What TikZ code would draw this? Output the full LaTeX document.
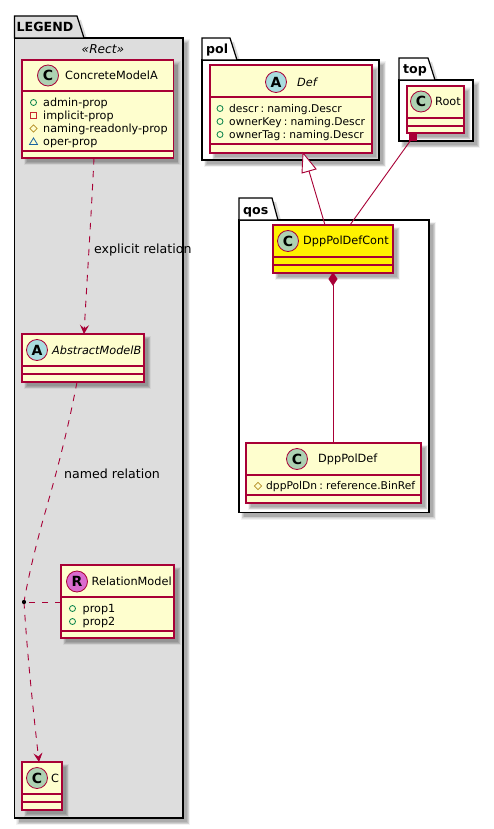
\documentclass[tikz,border=0pt]{standalone}
\usepackage{fontspec}
\setmainfont{DejaVu Sans}
\usetikzlibrary{arrows.meta,calc}
\definecolor{umlred}{HTML}{A80036}
\definecolor{umlfill}{HTML}{FEFECE}
\definecolor{legendgray}{HTML}{DDDDDD}
\definecolor{spotc}{HTML}{ADD1B2}
\definecolor{spota}{HTML}{A9DCDF}
\definecolor{spotr}{HTML}{DA6BCF}
\definecolor{visgreen}{HTML}{038048}
\definecolor{visred}{HTML}{C82930}
\definecolor{visyellow}{HTML}{B38D22}
\definecolor{visblue}{HTML}{1963A0}
\newcommand{\txt}{\fontsize{11.3}{13}\selectfont}
\newcommand{\atxt}{\fontsize{11.2}{13}\selectfont\spaceskip=.16em\relax}
\newcommand{\btxt}{\fontsize{10.7}{13}\selectfont\spaceskip=.2em\relax}
\newcommand{\etxt}{\fontsize{12.6}{14}\selectfont}
\newcommand{\ptxt}{\fontsize{12.6}{14}\selectfont\bfseries}
\tikzset{
  classbox/.style={draw=umlred,line width=1.1pt,inner sep=0pt,outer sep=0pt},
  pkgline/.style={draw=black,line width=1.2pt,line join=miter},
  spotcircle/.style={draw=umlred,line width=.8pt,circle,minimum size=21pt,inner sep=0pt,font=\fontsize{14}{14}\selectfont\bfseries},
  classname/.style={inner sep=0pt,anchor=west,text=black,font=\txt},
  attrtext/.style={inner sep=0pt,anchor=base west,text=black,font=\atxt},
  edgelabel/.style={inner sep=0pt,anchor=west,text=black,font=\etxt},
  relation/.style={draw=umlred,line width=.9pt},
  dashrel/.style={relation,dash pattern=on 6.5pt off 6.5pt},
  opentip/.style={-{Stealth[length=9pt,width=9pt,inset=3.5pt,fill=umlred]}},
  visicon/.style={line width=.8pt},
}
% soft shadow behind a rectangle
\newcommand{\softshadow}[4]{%
  \fill[black,opacity=.05] (#1+1.5,#2+1.5) rectangle (#3+7,#4+7);
  \fill[black,opacity=.06] (#1+2.5,#2+2.5) rectangle (#3+6.3,#4+6.3);
  \fill[black,opacity=.08] (#1+3.2,#2+3.2) rectangle (#3+5.6,#4+5.6);
  \fill[black,opacity=.09] (#1+4,#2+4) rectangle (#3+4.8,#4+4.8);
  \fill[black,opacity=.09] (#1+4.6,#2+4.6) rectangle (#3+4,#4+4);
}
% name x1 y1 x2 y2 line1 line2 fill
\newcommand{\umlclass}[8]{%
  \softshadow{#2}{#3}{#4}{#5}
  \node[classbox,fill=#8,minimum width={#4-#2},minimum height={#5-#3}] (#1) at ({(#2+#4)/2},{(#3+#5)/2}) {};
  \draw[umlred,line width=1.1pt] (#2,#6) -- (#4,#6) (#2,#7) -- (#4,#7);
}
% name x y fill letter
\newcommand{\spot}[5]{\node[spotcircle,fill=#4] (#1) at (#2,#3) {#5};}
% name x1 ytab tabx1 tabx2 ybody x2 ybottom fill label
\newcommand{\umlpkg}[9]{%
  \softshadow{#2}{#6}{#7}{#8}
  \fill[black,opacity=.15] (#2+4,#3+4) -- (#4+4,#3+4) -- (#5+4,#6+4) -- (#2+4,#6+4) -- cycle;
  \node[pkgline,fill=#9,inner sep=0pt,outer sep=0pt,minimum width={#7-#2},minimum height={#8-#6}] (#1) at ({(#2+#7)/2},{(#6+#8)/2}) {};
  \draw[pkgline,fill=#9] (#1.north west) -- (#2,#3) -- (#4,#3) -- (#5,#6) -- cycle;
}
\newcommand{\pkglabel}[4]{\node[inner sep=0pt,anchor=base west,font=\ptxt] (#1) at (#2,#3) {#4};}
\newcommand{\visplus}[2]{\draw[visicon,visgreen] (#1,#2) circle (3pt);}
\newcommand{\visminus}[2]{\draw[visicon,visred] (#1-3,#2-3) rectangle (#1+3,#2+3);}
\newcommand{\vishash}[2]{\draw[visicon,visyellow] (#1-3.6,#2) -- (#1,#2-3.6) -- (#1+3.6,#2) -- (#1,#2+3.6) -- cycle;}
\newcommand{\vistilde}[2]{\draw[visicon,visblue] (#1-4,#2+3) -- (#1,#2-3.5) -- (#1+4,#2+3) -- cycle;}
\newcommand{\attr}[4]{\node[attrtext] (#1) at (#2,#3+3.8) {#4};}
\newcommand{\battr}[4]{\node[attrtext,font=\btxt] (#1) at (#2,#3+3.8) {#4};}
\begin{document}
\begin{tikzpicture}[x=1pt,y=-1pt]
\useasboundingbox (0,0) rectangle (493,829);
\fill[white] (0,0) rectangle (493,829);
% packages
\umlpkg{legendpkg}{14.5}{16}{77}{84}{38}{183}{818}{legendgray}
\umlpkg{polpkg}{202}{38}{230}{237}{60}{379}{160}{white}
\umlpkg{toppkg}{399}{58}{428}{435}{80}{473}{141}{white}
\umlpkg{qospkg}{239}{198}{272}{278}{220}{429}{512.5}{white}
\pkglabel{legendlabel}{16.5}{32}{LEGEND}
\pkglabel{pollabel}{206}{54}{pol}
\pkglabel{toplabel}{403}{74}{top}
\pkglabel{qoslabel}{243}{214}{qos}
\node[inner sep=0pt,font=\fontsize{12.2}{14}\selectfont\itshape] (rectlabel) at (103,49.5) {«Rect»};
% classes
\umlclass{cma}{22}{60}{173.5}{158}{91}{151}{umlfill}
\spot{cmaspot}{48}{75.5}{spotc}{C}
\node[classname] (cmaname) at (65,75.5) {ConcreteModelA};
\visplus{33.5}{102.5}\attr{a1}{43}{102.5}{admin-prop}
\visminus{33.5}{115.5}\attr{a2}{43}{115.5}{implicit-prop}
\vishash{33.5}{128.5}\attr{a3}{43}{128.5}{naming-readonly-prop}
\vistilde{33.5}{141.5}\attr{a4}{43}{141.5}{oper-prop}

\umlclass{amb}{22}{334}{144}{382}{366}{374}{umlfill}
\spot{ambspot}{37}{350}{spota}{A}
\node[classname,font=\txt\itshape] (ambname) at (52,350) {AbstractModelB};

\umlclass{rel}{61}{565}{174}{638}{597}{631}{umlfill}
\spot{relspot}{77}{581.5}{spotr}{R}
\node[classname] (relname) at (91.5,581.5) {RelationModel};
\visplus{72.5}{608.5}\attr{r1}{82.5}{608.5}{prop1}
\visplus{72.5}{621.5}\attr{r2}{82.5}{621.5}{prop2}

\umlclass{cc}{22}{762}{62}{810}{794}{802}{umlfill}
\spot{ccspot}{37}{778}{spotc}{C}
\node[classname] (ccname) at (51,778) {C};

\umlclass{def}{210}{65}{372}{153}{97}{144}{umlfill}
\spot{defspot}{276}{82}{spota}{A}
\node[classname,font=\txt\itshape] (defname) at (297,82) {Def};
\visplus{220}{108.5}\battr{d1}{229}{108.5}{descr : naming.Descr}
\visplus{220}{121.5}\battr{d2}{229}{121.5}{ownerKey : naming.Descr}
\visplus{220}{134.5}\battr{d3}{229}{134.5}{ownerTag : naming.Descr}

\umlclass{root}{407}{86}{464}{133}{118}{126}{umlfill}
\spot{rootspot}{421}{101.5}{spotc}{C}
\node[classname] (rootname) at (435,101.5) {Root};

\umlclass{cont}{273}{225}{393}{273}{257}{265}{yellow}
\spot{contspot}{288}{241}{spotc}{C}
\node[classname] (contname) at (303,241) {DppPolDefCont};

\umlclass{dpd}{246}{443}{421}{503}{475}{495}{umlfill}
\spot{dpdspot}{297}{459}{spotc}{C}
\node[classname] (dpdname) at (318,459) {DppPolDef};
\vishash{258}{486}\battr{p1}{266}{486}{dppPolDn : reference.BinRef}

% connectors
\node[circle,fill=black,inner sep=0pt,minimum size=4pt] (dot) at (24,602) {};
\draw[dashrel,opentip] ([xshift=-3.75pt]cma.south) .. controls (91,220) and (87,280) .. ([xshift=1pt]amb.north);
\draw[dashrel] ([xshift=-6pt]amb.south) .. controls (65,445) and (50,495) .. (43,520) .. controls (36,545) and (28,578) .. (dot.center);
\draw[dashrel,opentip] (dot.center) .. controls (27,650) and (32,700) .. ([xshift=-3pt]cc.north);
\draw[dashrel] (rel.west |- dot) -- (dot.center);
\draw[relation] (def.south -| 309,0) ++(0,18) coordinate (inhstart) (inhstart) -- ([xshift=-8pt]cont.north);
\draw[relation,fill=white] ([xshift=12pt]def.south) -- (302,173) -- (316,169) -- cycle;
\draw[relation] ([xshift=-22.5pt]root.south) ++(0,4) coordinate (rootend) (rootend) -- ([xshift=17pt]cont.north);
\fill[umlred] ([xshift=-26.5pt]root.south) rectangle ([xshift=-18.5pt,yshift=-8pt]root.south);
\draw[relation] (cont.south) ++(0,12) coordinate (compend) (compend) -- (dpd.north -| compend);
\draw[relation,fill=umlred] (cont.south) -- ++(4,6) -- ++(-4,6) -- ++(-4,-6) -- cycle;
\node[circle,fill=black,inner sep=0pt,minimum size=4pt] (dottop) at (dot) {};
% labels
\node[edgelabel] (lbl1) at (94,250) {explicit relation};
\node[edgelabel] (lbl2) at (64,474) {named relation};
\end{tikzpicture}
\end{document}
